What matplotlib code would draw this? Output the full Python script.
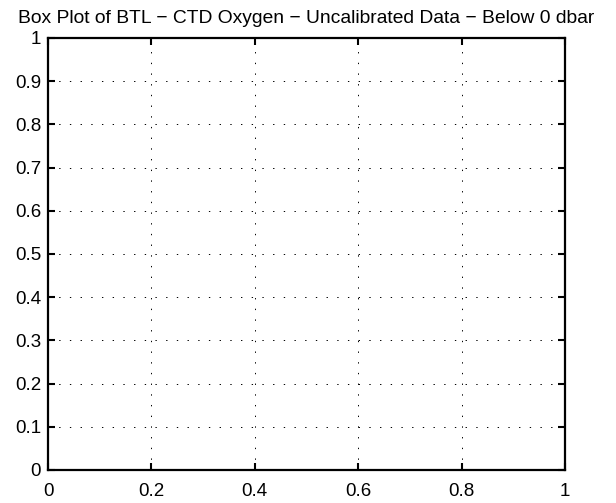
import numpy as np
import matplotlib.pyplot as plt

plt.rcParams['font.family'] = ['Liberation Sans', 'DejaVu Sans']

title = 'Box Plot of BTL \u2212 CTD Oxygen \u2212 Uncalibrated Data \u2212 Below 0 dbar'
x_lim = [0, 1]
y_lim = [0, 1]
x_ticks = [0, 0.2, 0.4, 0.6, 0.8, 1]
x_labels = ['0', '0.2', '0.4', '0.6', '0.8', '1']
y_ticks = [0, 0.1, 0.2, 0.3, 0.4, 0.5, 0.6, 0.7, 0.8, 0.9, 1]
y_labels = ['0', '0.1', '0.2', '0.3', '0.4', '0.5', '0.6', '0.7', '0.8', '0.9', '1']

fig = plt.figure(figsize=(6.16, 5.03), dpi=100)
ax = fig.add_axes([48/616, 1-470/503, 517/616, 432/503])

ax.set_xlim(x_lim)
ax.set_ylim(y_lim)
ax.set_xticks(x_ticks)
ax.set_xticklabels(x_labels)
ax.set_yticks(y_ticks)
ax.set_yticklabels(y_labels)
ax.tick_params(direction='in', length=5, width=1.5, top=True, right=True,
               labelsize=13.5, colors='black')
ax.tick_params(axis='y', pad=5)
ax.tick_params(axis='x', pad=9)
for s in ax.spines.values():
    s.set_linewidth(1.6)
ax.grid(True, color='black', linewidth=0.7, linestyle=(0, (1.4, 9.6)))
ax.set_title(title, fontsize=13.9, pad=11)

fig.savefig('out.png', dpi=100)
